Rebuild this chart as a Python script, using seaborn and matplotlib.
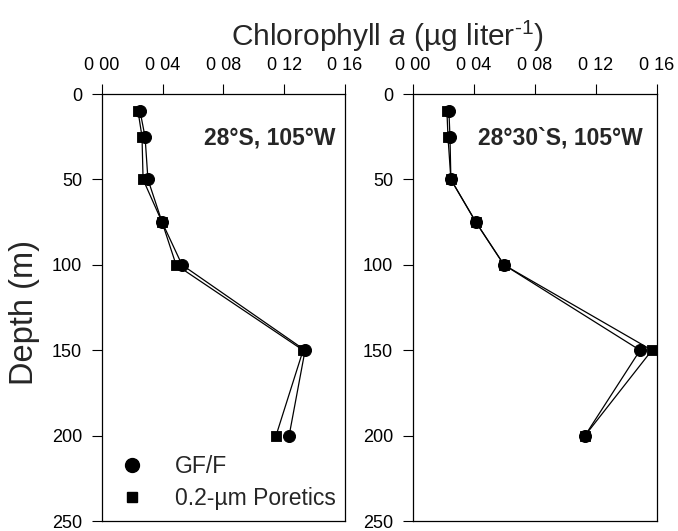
import matplotlib
matplotlib.use("Agg")
import matplotlib.pyplot as plt
from matplotlib.lines import Line2D
import seaborn as sns
import pandas as pd

# depths (m) and chlorophyll a (ug/l)
depth = [10, 25, 50, 75, 100, 150, 200]

gff_28s = [0.0252, 0.0285, 0.0304, 0.0397, 0.0528, 0.1337, 0.1232]
por_28s = [0.0239, 0.0265, 0.0272, 0.0397, 0.0489, 0.1324, 0.1146]

gff_2830s = [0.0236, 0.0243, 0.0249, 0.0413, 0.0597, 0.1489, 0.1128]
por_2830s = [0.0223, 0.0230, 0.0249, 0.0413, 0.0597, 0.1567, 0.1128]

xticks = [0.00, 0.04, 0.08, 0.12, 0.16]
xticklabels = ["0 00", "0 04", "0 08", "0 12", "0 16"]
yticks = [0, 50, 100, 150, 200, 250]
stations = ["28°S, 105°W", "28°30`S, 105°W"]

sns.set_style("ticks")
plt.rcParams['font.family'] = ['Liberation Sans', 'DejaVu Sans']
plt.rcParams['mathtext.fontset'] = 'custom'
plt.rcParams['mathtext.rm'] = 'Liberation Sans'
plt.rcParams['mathtext.it'] = 'Liberation Sans:italic'

fig = plt.figure(figsize=(6.78, 5.31), dpi=100)
ax1 = fig.add_axes([0.150, 0.0188, 0.359, 0.804])
ax2 = fig.add_axes([0.609, 0.0188, 0.360, 0.804])

panels = [(ax1, gff_28s, por_28s, stations[0], 0.959),
          (ax2, gff_2830s, por_2830s, stations[1], 0.940)]

for ax, gff, por, st, xr in panels:
    df = pd.DataFrame({"depth": depth * 2, "chl": gff + por,
                       "filter": ["GF/F"] * 7 + ["Poretics"] * 7})
    sns.lineplot(data=df, x="chl", y="depth", units="filter", estimator=None,
                 sort=False, color="black", lw=0.9, ax=ax, zorder=2)
    sns.scatterplot(x=gff, y=depth, marker="o", s=75, color="black",
                    edgecolor="black", ax=ax, zorder=3)
    sns.scatterplot(x=por, y=depth, marker="s", s=60, color="black",
                    edgecolor="black", ax=ax, zorder=3)
    ax.set_xlim(0, 0.16)
    ax.set_ylim(250, 0)
    ax.xaxis.tick_top()
    ax.set_xticks(xticks)
    ax.set_xticklabels(xticklabels)
    ax.set_yticks(yticks)
    ax.tick_params(labelsize=13, length=7.2, width=0.8, color="black",
                   labelcolor="black", direction="out", pad=7)
    ax.set_xlabel("")
    ax.set_ylabel("")
    for s in ax.spines.values():
        s.set_visible(True)
        s.set_linewidth(0.9)
        s.set_color("black")
    ax.text(xr, 0.897, st, transform=ax.transAxes, ha="right", va="center",
            fontsize=16.5, fontweight="bold")

fig.text(0.0354, 0.4124, "Depth (m)", rotation=90, ha="center", va="center",
         fontsize=23.5)

handles = [Line2D([], [], marker="o", ls="none", color="black", markersize=10),
           Line2D([], [], marker="s", ls="none", color="black", markersize=7.5)]
ax1.legend(handles, ["GF/F", "0.2-µm Poretics"], loc="lower left",
           bbox_to_anchor=(0.03, 0.025), frameon=False, fontsize=16.5,
           handletextpad=0.87, labelspacing=0.4, borderpad=0,
           borderaxespad=0)

fig.text(0.572, 0.931, r"Chlorophyll $a$ (µg liter$^{\text{-1}}$)",
         ha="center", va="center", fontsize=21.5)

fig.savefig("out.png", dpi=100)
